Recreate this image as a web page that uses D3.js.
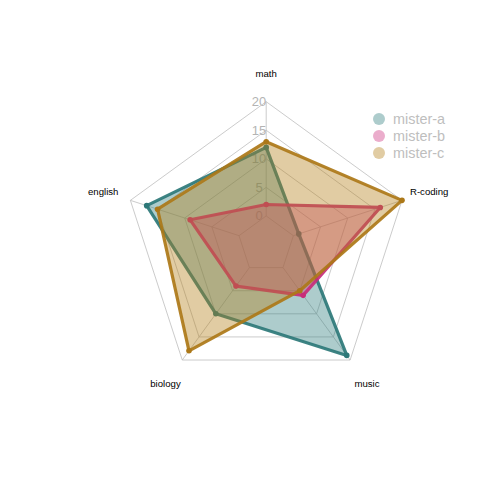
<!DOCTYPE html>
<html>
<head>
<meta charset="utf-8">
<script src="https://cdn.jsdelivr.net/npm/d3@7"></script>
<style>
  body { margin: 0; background: #fff; }
  svg { font-family: "Liberation Sans", Arial, sans-serif; }
</style>
</head>
<body>
<svg id="radar" width="504" height="504"></svg>
<script>
const subjects = ["math", "english", "biology", "music", "R-coding"];
const players = ["mister-a", "mister-b", "mister-c"];
const misterA = [12, 17, 10, 19, 1];
const misterB = [2, 9, 4, 6, 16];
const misterC = [13, 15, 18, 5, 20];
const tickLabels = [0, 5, 10, 15, 20];

const seriesValues = [misterA, misterB, misterC];
const colorsBorder = ["rgb(45,120,120)", "rgb(200,45,120)", "rgb(172,120,24)"];
const colorsFill = ["rgba(51,128,128,0.4)", "rgba(204,51,128,0.4)", "rgba(179,128,26,0.4)"];

const center = { x: 266.2, y: 244.5 };
const R = 142.8;

const svg = d3.select("#radar");
const g = svg.append("g").attr("transform", `translate(${center.x},${center.y})`);

// fmsb style: 0 sits on the inner ring, 20 on the outer one
const rScale = d3.scaleLinear().domain([0, 20]).range([R / 5, R]);
const angle = (i) => -i * 2 * Math.PI / subjects.length;
const px = (i, r) => r * Math.sin(angle(i));
const py = (i, r) => -r * Math.cos(angle(i));

// grid rings
tickLabels.forEach((t) => {
  const r = rScale(t);
  g.append("polygon")
    .attr("points", subjects.map((s, i) => `${px(i, r)},${py(i, r)}`).join(" "))
    .attr("fill", "none")
    .attr("stroke", "#bebebe")
    .attr("stroke-width", 0.8);
});

// spokes
g.selectAll(".spoke")
  .data(subjects)
  .enter()
  .append("line")
  .attr("x1", (d, i) => px(i, rScale(0)))
  .attr("y1", (d, i) => py(i, rScale(0)))
  .attr("x2", (d, i) => px(i, rScale(20)))
  .attr("y2", (d, i) => py(i, rScale(20)))
  .attr("stroke", "#bebebe")
  .attr("stroke-width", 0.8);

// tick labels on the vertical axis
g.selectAll(".tick")
  .data(tickLabels)
  .enter()
  .append("text")
  .attr("x", -0.05 * R)
  .attr("y", (d) => -rScale(d))
  .attr("text-anchor", "middle")
  .attr("dominant-baseline", "central")
  .style("font-size", "13px")
  .style("fill", "#b4b4b4")
  .text((d) => d);

// series
const radial = d3.lineRadial()
  .angle((d, i) => angle(i))
  .radius((d) => rScale(d))
  .curve(d3.curveLinearClosed);

seriesValues.forEach((vals, k) => {
  g.append("path")
    .attr("d", radial(vals))
    .attr("fill", colorsFill[k])
    .attr("stroke", colorsBorder[k])
    .attr("stroke-opacity", 0.92)
    .attr("stroke-width", 3.2)
    .attr("stroke-linejoin", "round");

  g.selectAll(`.pt${k}`)
    .data(vals)
    .enter()
    .append("circle")
    .attr("cx", (d, i) => px(i, rScale(d)))
    .attr("cy", (d, i) => py(i, rScale(d)))
    .attr("r", 2.8)
    .attr("fill", colorsBorder[k]);
});

// vertex labels
g.selectAll(".vlabel")
  .data(subjects)
  .enter()
  .append("text")
  .attr("x", (d, i) => px(i, 1.2 * R))
  .attr("y", (d, i) => py(i, 1.2 * R))
  .attr("text-anchor", "middle")
  .attr("dominant-baseline", "central")
  .style("font-size", "9.6px")
  .style("fill", "#000")
  .text((d) => d);

// legend
const legend = svg.append("g").attr("transform", "translate(379,119)");
players.forEach((p, k) => {
  legend.append("circle")
    .attr("cx", 0)
    .attr("cy", k * 17)
    .attr("r", 6)
    .attr("fill", colorsFill[k]);
  legend.append("text")
    .attr("x", 14)
    .attr("y", k * 17)
    .attr("dominant-baseline", "central")
    .style("font-size", "14.4px")
    .style("fill", "#bebebe")
    .text(p);
});
</script>
</body>
</html>
